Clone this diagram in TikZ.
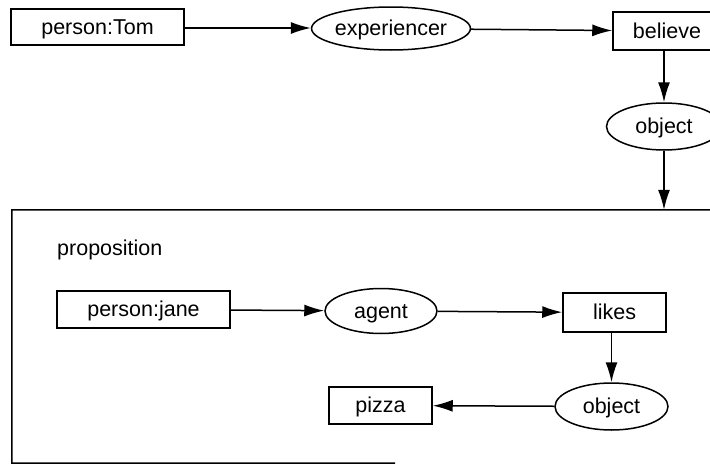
\documentclass[tikz,border=0pt]{standalone}
\usepackage{fontspec}
\setmainfont{Liberation Sans}
\usetikzlibrary{shapes.geometric,arrows.meta}
\begin{document}
\begin{tikzpicture}[x=1pt,y=-1pt,
  every node/.style={font=\fontsize{21.5}{25}\selectfont, inner sep=0pt},
  box/.style={draw, line width=1.5pt, rectangle, text height=14pt, text depth=0pt},
  oval/.style={draw, line width=1.5pt, ellipse, text height=14pt, text depth=0pt},
  arr/.style={line width=1.5pt, -{Latex[length=20pt,width=12pt]}}]
\clip (0,0) rectangle (710,466);
\fill[white] (0,0) rectangle (710,466);
% top row
\node[box, minimum width=173pt, minimum height=36pt] (tom) at (97.5,27) {person:Tom};
\node[oval, minimum width=132pt, minimum height=43pt] (exp) at (391,28.5) {experiencer};
\node[box, minimum width=108pt, minimum height=38pt] (believe) at (667,31) {believe};
\node[oval, minimum width=115pt, minimum height=47pt] (obj1) at (664,126.5) {object};
% proposition box
\node[minimum width=800pt, minimum height=253pt] (propbox) at (412,336.5) {};
\draw[line width=1.5pt] (propbox.north east) -- (propbox.north west) -- (propbox.south west) -- (395,463);
\node[anchor=base west] (proplabel) at (57,255) {proposition};
% inner row
\node[box, minimum width=173pt, minimum height=37pt] (jane) at (143.5,309.5) {person:jane};
\node[oval, minimum width=112pt, minimum height=45pt] (agent) at (381,311) {agent};
\node[box, minimum width=103pt, minimum height=39pt] (likes) at (614.5,312.5) {likes};
\node[oval, minimum width=113pt, minimum height=47pt] (obj2) at (611.5,406.5) {object};
\node[box, minimum width=103pt, minimum height=37pt] (pizza) at (380.5,405.5) {pizza};
% connectors
\draw[arr] (tom.east |- 0,28) -- (exp.west |- 0,28);
\draw[arr] (exp) -- (believe);
\draw[arr] (obj1.north |- believe.south) -- (obj1.north);
\draw[arr] (obj1.south) -- (obj1.south |- propbox.north);
\draw[arr] (jane) -- (agent);
\draw[arr] (agent) -- (likes);
\draw[arr] (likes.south -| obj2.north) -- (obj2.north);
\draw[arr] (obj2) -- (pizza);
\end{tikzpicture}
\end{document}
